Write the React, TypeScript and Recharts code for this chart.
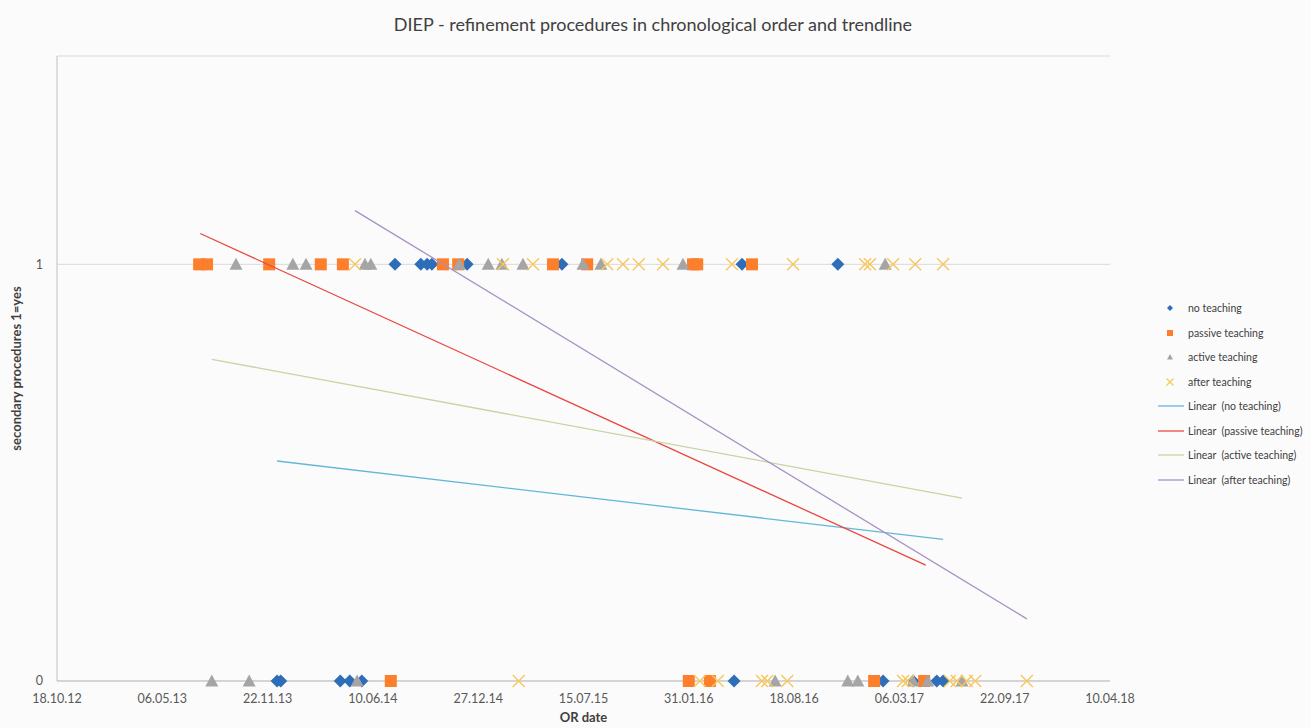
import React from "react";
import { ScatterChart, Scatter, XAxis, YAxis, CartesianGrid, Legend } from "recharts";

const FONT = "Lato, 'Open Sans', 'Liberation Sans', sans-serif";
const TITLE = "DIEP - refinement procedures in chronological order and trendline";
const X_LABEL = "OR date";
const Y_LABEL = "secondary procedures 1=yes";

// x values are Excel date serials (41200 = 18.10.12)
const X_TICKS = [41200, 41400, 41600, 41800, 42000, 42200, 42400, 42600, 42800, 43000, 43200];
const Y_TICKS = [0, 1];

// dates of procedures with refinement (y = 1)
const noTeachingYes = [41842, 41891, 41903, 41912, 41979, 42159, 42501, 42683];
const passiveYes = [41470, 41485, 41603, 41701, 41743, 41933, 41962, 42142, 42207, 42408, 42416, 42520];
const activeYes = [41540, 41648, 41673, 41785, 41796, 41964, 42019, 42045, 42085, 42199, 42233, 42389, 42773];
const afterYes = [41766, 42047, 42104, 42245, 42275, 42305, 42351, 42482, 42598, 42735, 42744, 42788, 42830, 42883];

// dates of procedures without refinement (y = 0)
const noTeachingNo = [41618, 41625, 41738, 41756, 41779, 42486, 42769, 42826, 42871, 42883];
const passiveNo = [41834, 42400, 42440, 42752, 42847];
const activeNo = [41494, 41565, 41770, 42564, 42702, 42721, 42826, 42854, 42919];
const afterNo = [42077, 42421, 42455, 42539, 42549, 42587, 42807, 42816, 42896, 42909, 42928, 42944, 43042];

// linear trendlines (start / end)
const noTeachingTrendX = [41618, 42883];
const noTeachingTrendY = [0.528, 0.34];
const passiveTrendX = [41472, 42850];
const passiveTrendY = [1.074, 0.278];
const activeTrendX = [41494, 42919];
const activeTrendY = [0.772, 0.439];
const afterTrendX = [41766, 43042];
const afterTrendY = [1.129, 0.149];

const COLORS = {
  no: "#2e6eb8",
  passive: "#fd7e2b",
  active: "#a5a5a5",
  after: "#f7c75c",
  noLine: "#62b7d9",
  passiveLine: "#e9473f",
  activeLine: "#c9d4a2",
  afterLine: "#a990c6",
};

const points = (yes: number[], no: number[]) => [
  ...yes.map((x) => ({ x, y: 1 })),
  ...no.map((x) => ({ x, y: 0 })),
];
const trend = (xs: number[], ys: number[]) => xs.map((x, i) => ({ x, y: ys[i] }));

const fmtDate = (s: number) => {
  const d = new Date(Math.round((s - 25569) * 86400000));
  const p = (n: number) => String(n).padStart(2, "0");
  return `${p(d.getUTCDate())}.${p(d.getUTCMonth() + 1)}.${p(d.getUTCFullYear() % 100)}`;
};

const Diamond = (props: any) => {
  const { cx, cy } = props;
  const r = 6.5;
  return <path d={`M${cx},${cy - r}L${cx + r},${cy}L${cx},${cy + r}L${cx - r},${cy}Z`} fill={COLORS.no} />;
};
const Square = (props: any) => {
  const { cx, cy } = props;
  return <rect x={cx - 6} y={cy - 6} width={12} height={12} fill={COLORS.passive} />;
};
const Triangle = (props: any) => {
  const { cx, cy } = props;
  return <path d={`M${cx},${cy - 6.5}L${cx + 6.5},${cy + 5.5}L${cx - 6.5},${cy + 5.5}Z`} fill={COLORS.active} />;
};
const Cross = (props: any) => {
  const { cx, cy } = props;
  const r = 6;
  return (
    <path
      d={`M${cx - r},${cy - r}L${cx + r},${cy + r}M${cx + r},${cy - r}L${cx - r},${cy + r}`}
      stroke={COLORS.after}
      strokeWidth={1.4}
      fill="none"
    />
  );
};
const NoShape = () => <g />;

const legendItems = [
  { label: "no teaching", kind: "diamond", color: COLORS.no },
  { label: "passive teaching", kind: "square", color: COLORS.passive },
  { label: "active teaching", kind: "triangle", color: COLORS.active },
  { label: "after teaching", kind: "cross", color: COLORS.after },
  { label: "Linear  (no teaching)", kind: "line", color: COLORS.noLine },
  { label: "Linear  (passive teaching)", kind: "line", color: COLORS.passiveLine },
  { label: "Linear  (active teaching)", kind: "line", color: COLORS.activeLine },
  { label: "Linear  (after teaching)", kind: "line", color: COLORS.afterLine },
];

const LegendIcon = ({ kind, color }: { kind: string; color: string }) => (
  <svg width={38} height={14} style={{ display: "block" }}>
    {kind === "diamond" && <path d="M20,4L23,7L20,10L17,7Z" fill={color} />}
    {kind === "square" && <rect x={17} y={4} width={6} height={6} fill={color} />}
    {kind === "triangle" && <path d="M20,4L23,9.5L17,9.5Z" fill={color} />}
    {kind === "cross" && <path d="M16.5,3.5L23.5,10.5M23.5,3.5L16.5,10.5" stroke={color} strokeWidth={1.2} />}
    {kind === "line" && <line x1={8} x2={34} y1={7} y2={7} stroke={color} strokeWidth={1.3} />}
  </svg>
);

const renderLegend = () => (
  <div style={{ fontFamily: FONT, fontSize: 10.5, color: "#404040" }}>
    {legendItems.map((it) => (
      <div key={it.label} style={{ display: "flex", alignItems: "center", height: 24.5 }}>
        <LegendIcon kind={it.kind} color={it.color} />
        <span style={{ whiteSpace: "pre" }}>{it.label}</span>
      </div>
    ))}
  </div>
);

export default function App() {
  return (
    <div style={{ position: "relative", width: 1311, height: 728, background: "#fbfbfb", fontFamily: FONT }}>
      <style>{`body{margin:0;background:#fbfbfb}`}</style>
      <div
        style={{
          position: "absolute",
          top: 13,
          left: 0,
          width: 1306,
          textAlign: "center",
          fontSize: 18,
          color: "#404040",
        }}
      >
        {TITLE}
      </div>
      <ScatterChart width={1311} height={728} margin={{ top: 56, right: 41, bottom: 0, left: 0 }}>
        <CartesianGrid vertical={false} stroke="#d9d9d9" />
        <XAxis
          type="number"
          dataKey="x"
          domain={[41200, 43200]}
          ticks={X_TICKS}
          tickFormatter={fmtDate}
          tickLine={false}
          tickMargin={7}
          axisLine={{ stroke: "#bfbfbf" }}
          tick={{ fill: "#595959", fontSize: 12.5, fontFamily: FONT }}
          height={47}
          interval={0}
          label={{
            content: (p: any) => {
              const vb = p.viewBox;
              return (
                <text
                  x={vb.x + vb.width / 2}
                  y={717}
                  textAnchor="middle"
                  dominantBaseline="central"
                  fontWeight="bold"
                  fontSize={13}
                  fill="#404040"
                  fontFamily={FONT}
                >
                  {X_LABEL}
                </text>
              );
            },
          }}
        />
        <YAxis
          type="number"
          dataKey="y"
          domain={[0, 1.5]}
          ticks={Y_TICKS}
          tickLine={false}
          tickMargin={8}
          axisLine={{ stroke: "#bfbfbf" }}
          tick={{ fill: "#595959", fontSize: 12.5, fontFamily: FONT }}
          width={57}
          label={{
            content: (p: any) => {
              const vb = p.viewBox;
              const cx = 16;
              const cy = vb.y + vb.height / 2;
              return (
                <text
                  x={cx}
                  y={cy}
                  transform={`rotate(-90, ${cx}, ${cy})`}
                  textAnchor="middle"
                  dominantBaseline="central"
                  fontWeight="bold"
                  fontSize={13}
                  fill="#404040"
                  fontFamily={FONT}
                >
                  {Y_LABEL}
                </text>
              );
            },
          }}
        />
        <Legend
          layout="vertical"
          align="right"
          verticalAlign="top"
          content={renderLegend}
          wrapperStyle={{ left: 1150, top: 296, right: "auto", width: 160 }}
        />
        <Scatter name="no teaching" data={points(noTeachingYes, noTeachingNo)} shape={Diamond} isAnimationActive={false} />
        <Scatter name="passive teaching" data={points(passiveYes, passiveNo)} shape={Square} isAnimationActive={false} />
        <Scatter name="active teaching" data={points(activeYes, activeNo)} shape={Triangle} isAnimationActive={false} />
        <Scatter name="after teaching" data={points(afterYes, afterNo)} shape={Cross} isAnimationActive={false} />
        <Scatter
          name="Linear (no teaching)"
          data={trend(noTeachingTrendX, noTeachingTrendY)}
          line={{ stroke: COLORS.noLine, strokeWidth: 1.3 }}
          shape={NoShape}
          isAnimationActive={false}
        />
        <Scatter
          name="Linear (passive teaching)"
          data={trend(passiveTrendX, passiveTrendY)}
          line={{ stroke: COLORS.passiveLine, strokeWidth: 1.3 }}
          shape={NoShape}
          isAnimationActive={false}
        />
        <Scatter
          name="Linear (active teaching)"
          data={trend(activeTrendX, activeTrendY)}
          line={{ stroke: COLORS.activeLine, strokeWidth: 1.3 }}
          shape={NoShape}
          isAnimationActive={false}
        />
        <Scatter
          name="Linear (after teaching)"
          data={trend(afterTrendX, afterTrendY)}
          line={{ stroke: COLORS.afterLine, strokeWidth: 1.3 }}
          shape={NoShape}
          isAnimationActive={false}
        />
      </ScatterChart>
    </div>
  );
}
